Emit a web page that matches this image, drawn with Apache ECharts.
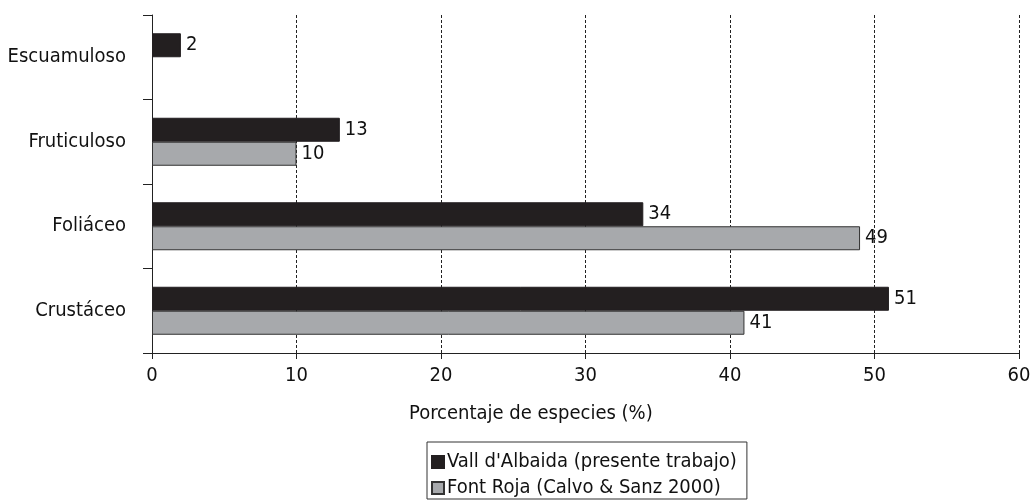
<!DOCTYPE html>
<html>
<head>
<meta charset="utf-8">
<script src="https://cdn.jsdelivr.net/npm/echarts@6/dist/echarts.min.js"></script>
<style>
  html, body { margin: 0; padding: 0; background: #fff; }
  #chart { width: 1030px; height: 501px; }
</style>
</head>
<body>
<div id="chart"></div>
<script>
// categories listed bottom to top (category axis on y)
const categories = ['Crustáceo', 'Foliáceo', 'Fruticuloso', 'Escuamuloso'];
const vallAlbaida = [51, 34, 13, 2];
const fontRoja = [41, 49, 10, null];
const xTicks = [0, 10, 20, 30, 40, 50, 60];

const FONT = '"Liberation Sans Narrow", "DejaVu Sans Condensed", "Arial Narrow", sans-serif';

const chart = echarts.init(document.getElementById('chart'));

const option = {
  animation: false,
  textStyle: { fontFamily: FONT, color: '#111' },
  title: {
    text: 'Porcentaje de especies (%)',
    left: 404,
    top: 399,
    textStyle: { fontFamily: FONT, fontSize: 20, fontWeight: 'normal', color: '#111' },
  },
  legend: {
    orient: 'vertical',
    left: 427,
    top: 442,
    padding: [10, 10, 1, 4],
    itemGap: 6,
    itemWidth: 12,
    itemHeight: 12,
    icon: 'rect',
    borderColor: '#333',
    borderWidth: 1,
    textStyle: { fontFamily: FONT, fontSize: 20, color: '#111', padding: [0, 0, 0, -2] },
    data: ["Vall d'Albaida (presente trabajo)", 'Font Roja (Calvo & Sanz 2000)'],
  },
  grid: {
    left: 152,
    right: 11,
    top: 15,
    bottom: 148,
    containLabel: false,
    outerBoundsMode: 'none',
  },
  xAxis: {
    type: 'value',
    min: xTicks[0],
    max: xTicks[xTicks.length - 1],
    interval: 10,
    axisLine: { show: true, lineStyle: { color: '#222', width: 1 } },
    axisTick: { show: true, inside: false, length: 6, lineStyle: { color: '#222' } },
    axisLabel: { fontFamily: FONT, fontSize: 20, color: '#111', margin: 13 },
    splitLine: {
      show: true,
      lineStyle: { color: '#222', type: [3, 2], width: 1 },
    },
  },
  yAxis: {
    type: 'category',
    data: categories,
    axisLine: { show: true, lineStyle: { color: '#222', width: 1 } },
    axisTick: { show: true, length: 9, lineStyle: { color: '#222' } },
    axisLabel: { fontFamily: FONT, fontSize: 20, color: '#111', margin: 26 },
    splitLine: { show: false },
  },
  series: [
    {
      name: "Vall d'Albaida (presente trabajo)",
      type: 'bar',
      data: vallAlbaida,
      barWidth: 24,
      barGap: '0%',
      itemStyle: { color: '#231f20', borderColor: '#231f20', borderWidth: 1 },
      label: { show: true, position: 'right', distance: 5, fontFamily: FONT, fontSize: 20, color: '#111' },
    },
    {
      name: 'Font Roja (Calvo & Sanz 2000)',
      type: 'bar',
      data: fontRoja,
      barWidth: 24,
      barGap: '0%',
      itemStyle: { color: '#a7a9ac', borderColor: '#333', borderWidth: 1 },
      label: { show: true, position: 'right', distance: 5, fontFamily: FONT, fontSize: 20, color: '#111' },
    },
  ],
};

chart.setOption(option);
</script>
</body>
</html>
